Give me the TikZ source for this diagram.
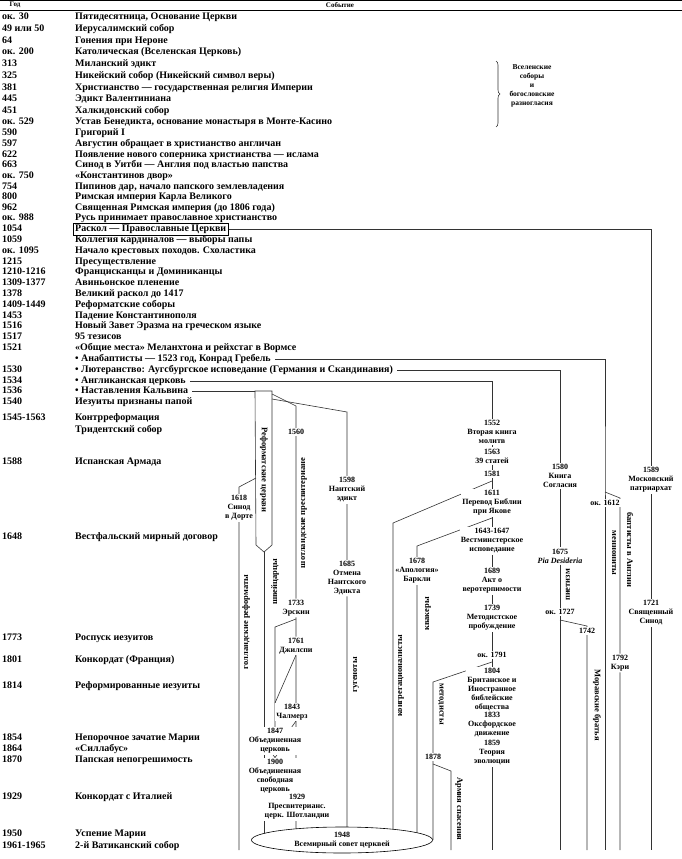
\documentclass[tikz,border=0pt]{standalone}
\usepackage{fontspec}
\setmainfont{Liberation Serif}
\usetikzlibrary{shapes.geometric,decorations.pathreplacing}
\pgfdeclarelayer{bg}
\pgfsetlayers{bg,main}

\tikzstyle{hd}=[inner sep=0pt, font=\bfseries\fontsize{7}{7}\selectfont]
\tikzstyle{yr}=[anchor=west, inner sep=0pt, text height=7pt, text depth=2pt, font=\bfseries\fontsize{10}{11}\selectfont]
\tikzstyle{ev}=[yr]
\tikzstyle{br}=[fill=white, inner sep=1.2pt, align=center, font=\bfseries\fontsize{8}{9}\selectfont]
\tikzstyle{vt}=[inner sep=0pt, font=\bfseries\fontsize{8.5}{9}\selectfont]
\tikzstyle{ln}=[line width=0.6pt, black!80]

\begin{document}
\begin{tikzpicture}[x=1pt, y=-1pt]
\useasboundingbox (0,0) rectangle (682,859);

% header
\node[hd] (HY) at (15,5) {Год};
\node[hd] (HE) at (340,5) {Событие};
\draw[line width=1pt] (0,1) -- (682,1);
\draw[line width=0.5pt] (0,10) -- (682,10);

% years and events
\node[yr] (Y0) at (2,17) {ок. 30};        \node[ev] (E0) at (75,17) {Пятидесятница, Основание Церкви};
\node[yr] (Y1) at (2,29) {49 или 50};     \node[ev] (E1) at (75,29) {Иерусалимский собор};
\node[yr] (Y2) at (2,41) {64};            \node[ev] (E2) at (75,41) {Гонения при Нероне};
\node[yr] (Y3) at (2,52) {ок. 200};       \node[ev] (E3) at (75,52) {Католическая (Вселенская Церковь)};
\node[yr] (Y4) at (2,64) {313};           \node[ev] (E4) at (75,64) {Миланский эдикт};
\node[yr] (Y5) at (2,76) {325};           \node[ev] (E5) at (75,76) {Никейский собор (Никейский символ веры)};
\node[yr] (Y6) at (2,88) {381};           \node[ev] (E6) at (75,88) {Христианство — государственная религия Империи};
\node[yr] (Y7) at (2,99) {445};           \node[ev] (E7) at (75,99) {Эдикт Валентиниана};
\node[yr] (Y8) at (2,111) {451};          \node[ev] (E8) at (75,111) {Халкидонский собор};
\node[yr] (Y9) at (2,122) {ок. 529};      \node[ev] (E9) at (75,122) {Устав Бенедикта, основание монастыря в Монте-Касино};
\node[yr] (Y10) at (2,133) {590};         \node[ev] (E10) at (75,133) {Григорий I};
\node[yr] (Y11) at (2,144) {597};         \node[ev] (E11) at (75,144) {Августин обращает в христианство англичан};
\node[yr] (Y12) at (2,155) {622};         \node[ev] (E12) at (75,155) {Появление нового соперника христианства — ислама};
\node[yr] (Y13) at (2,165) {663};         \node[ev] (E13) at (75,165) {Синод в Уитби — Англия под властью папства};
\node[yr] (Y14) at (2,176) {ок. 750};     \node[ev] (E14) at (75,176) {«Константинов двор»};
\node[yr] (Y15) at (2,187) {754};         \node[ev] (E15) at (75,187) {Пипинов дар, начало папского землевладения};
\node[yr] (Y16) at (2,197) {800};         \node[ev] (E16) at (75,197) {Римская империя Карла Великого};
\node[yr] (Y17) at (2,208) {962};         \node[ev] (E17) at (75,208) {Священная Римская империя (до 1806 года)};
\node[yr] (Y18) at (2,218) {ок. 988};     \node[ev] (E18) at (75,218) {Русь принимает православное христианство};
\node[yr] (Y19) at (2,229) {1054};        \node[ev, draw, inner xsep=2pt, inner ysep=1.5pt] (E19) at (73,229) {Раскол — Православные Церкви};
\node[yr] (Y20) at (2,240) {1059};        \node[ev] (E20) at (75,240) {Коллегия кардиналов — выборы папы};
\node[yr] (Y21) at (2,251) {ок. 1095};    \node[ev] (E21) at (75,251) {Начало крестовых походов. Схоластика};
\node[yr] (Y22) at (2,262) {1215};        \node[ev] (E22) at (75,262) {Пресуществление};
\node[yr] (Y23) at (2,272) {1210-1216};   \node[ev] (E23) at (75,272) {Францисканцы и Доминиканцы};
\node[yr] (Y24) at (2,283) {1309-1377};   \node[ev] (E24) at (75,283) {Авиньонское пленение};
\node[yr] (Y25) at (2,294) {1378};        \node[ev] (E25) at (75,294) {Великий раскол до 1417};
\node[yr] (Y26) at (2,305) {1409-1449};   \node[ev] (E26) at (75,305) {Реформатские соборы};
\node[yr] (Y27) at (2,316) {1453};        \node[ev] (E27) at (75,316) {Падение Константинополя};
\node[yr] (Y28) at (2,326) {1516};        \node[ev] (E28) at (75,326) {Новый Завет Эразма на греческом языке};
\node[yr] (Y29) at (2,337) {1517};        \node[ev] (E29) at (75,337) {95 тезисов};
\node[yr] (Y30) at (2,348) {1521};        \node[ev] (E30) at (75,348) {«Общие места» Меланхтона и рейхстаг в Вормсе};
                                          \node[ev] (E31) at (75,359) {• Анабаптисты — 1523 год, Конрад Гребель};
\node[yr] (Y32) at (2,370) {1530};        \node[ev] (E32) at (75,370) {• Лютеранство: Аугсбургское исповедание (Германия и Скандинавия)};
\node[yr] (Y33) at (2,381) {1534};        \node[ev] (E33) at (75,381) {• Англиканская церковь};
\node[yr] (Y34) at (2,391) {1536};        \node[ev] (E34) at (75,391) {• Наставления Кальвина};
\node[yr] (Y35) at (2,402) {1540};        \node[ev] (E35) at (75,402) {Иезуиты признаны папой};
\node[yr] (Y36) at (2,418) {1545-1563};   \node[ev] (E36) at (75,418) {Контрреформация};
                                          \node[ev] (E37) at (75,430) {Тридентский собор};
\node[yr] (Y38) at (2,462) {1588};        \node[ev] (E38) at (75,462) {Испанская Армада};
\node[yr] (Y39) at (2,537) {1648};        \node[ev] (E39) at (75,537) {Вестфальский мирный договор};
\node[yr] (Y40) at (2,638) {1773};        \node[ev] (E40) at (75,638) {Роспуск иезуитов};
\node[yr] (Y41) at (2,660) {1801};        \node[ev] (E41) at (75,660) {Конкордат (Франция)};
\node[yr] (Y42) at (2,686) {1814};        \node[ev] (E42) at (75,686) {Реформированные иезуиты};
\node[yr] (Y43) at (2,738) {1854};        \node[ev] (E43) at (75,738) {Непорочное зачатие Марии};
\node[yr] (Y44) at (2,749) {1864};        \node[ev] (E44) at (75,749) {«Силлабус»};
\node[yr] (Y45) at (2,760) {1870};        \node[ev] (E45) at (75,760) {Папская непогрешимость};
\node[yr] (Y46) at (2,797) {1929};        \node[ev] (E46) at (75,797) {Конкордат с Италией};
\node[yr] (Y47) at (2,834) {1950};        \node[ev] (E47) at (75,834) {Успение Марии};
\node[yr] (Y48) at (2,846) {1961-1965};   \node[ev] (E48) at (75,846) {2-й Ватиканский собор};

% councils brace
\draw[ln, decorate, decoration={brace, amplitude=4pt}] (496,61) -- (496,127);
\node[align=center, inner sep=0pt, font=\bfseries\fontsize{7.5}{9}\selectfont] (BR) at (532,86) {Вселенские\\соборы\\и\\богословские\\разногласия};

% orthodox
\node[br] (O1) at (651,480) {1589\\Московский\\патриархат};
\node[br] (O2) at (651,613) {1721\\Священный\\Синод};
% anabaptists
\node[br] (M1) at (605,503) {ок. 1612};
\node[br] (B1) at (620,663) {1792\\Кэри};
\node[vt, rotate=-90] (MV) at (614,553) {меннониты};
\node[vt, rotate=-90] (BV) at (630,550) {баптисты в Англии};
% lutherans
\node[br] (L1) at (560,476) {1580\\Книга\\Согласия};
\node[br] (L2) at (560,556) {1675\\\textit{Pia Desideria}};
\node[br] (L3) at (560,612) {ок. 1727};
\node[br] (L4) at (587,631) {1742};
\node[vt, rotate=90] (PV) at (568,585) {пиетизм};
\node[vt, rotate=-90] (MB) at (597,705) {Моравские братья};
% anglicans
\node[br] (A1) at (492,432) {1552\\Вторая книга\\молитв};
\node[br] (A2) at (492,456) {1563\\39 статей};
\node[br] (A3) at (492,474) {1581};
\node[br] (A4) at (492,503) {1611\\Перевод Библии\\при Якове};
\node[br] (A5) at (492,541) {1643-1647\\Вестминстерское\\исповедание};
\node[br] (A6) at (492,581) {1689\\Акт о\\веротерпимости};
\node[br] (A7) at (492,618) {1739\\Методистское\\пробуждение};
\node[br] (A8) at (492,655) {ок. 1791};
\node[br] (A9) at (492,690) {1804\\Британское и\\Иностранное\\библейские\\общества};
\node[br] (A10) at (492,725) {1833\\Оксфордское\\движение};
\node[br] (A11) at (492,753) {1859\\Теория\\эволюции};
\node[br] (Q1) at (417,571) {1678\\«Апология»\\Баркли};
\node[br] (MT1) at (433,757) {1878};
\node[vt, rotate=90] (CV) at (401,676) {конгрегационалисты};
\node[vt, rotate=90] (QV) at (428,614) {квакеры};
\node[vt, rotate=-90] (MTV) at (441,704) {методисты};
\node[vt, rotate=-90] (SA) at (459,809) {Армия спасения};
% reformed
\node[vt, rotate=-90] (RC) at (264,470) {Реформатские церкви};
\node[br] (H1) at (347,490) {1598\\Нантский\\эдикт};
\node[br] (H2) at (347,578) {1685\\Отмена\\Нантского\\Эдикта};
\node[br] (D1) at (239,508) {1618\\Синод\\в Дорте};
\node[br] (S1) at (296,432) {1560};
\node[br] (S2) at (296,608) {1733\\Эрскин};
\node[br] (S3) at (296,646) {1761\\Джилспи};
\node[br] (S4) at (292,712) {1843\\Чалмерз};
\node[br] (U1) at (275,741) {1847\\Объединенная\\церковь};
\node[br] (U2) at (275,776) {1900\\Объединенная\\свободная\\церковь};
\node[br] (S5) at (297,807) {1929\\Пресвитерианс.\\церк. Шотландии};
\node[vt, rotate=90] (SV) at (304,513) {шотландские пресвитериане};
\node[vt, rotate=90] (WV) at (275,582) {швейцарцы};
\node[vt, rotate=90] (DV) at (246,622) {голландские реформаты};
\node[vt, rotate=90] (HV) at (356,675) {гугеноты};
\node[ellipse, draw, line width=0.6pt, fill=white, minimum width=181pt, minimum height=26pt, inner sep=0pt, align=center, font=\bfseries\fontsize{8}{9}\selectfont] (W) at (342,840) {1948\\Всемирный совет церквей};

% corners and line ends
\coordinate (o0) at (651,229);  \coordinate (o9) at (651,850);
\coordinate (a0) at (605,359);  \coordinate (a1) at (605,492);  \coordinate (a2) at (620,498);
\coordinate (a8) at (605,850);  \coordinate (a9) at (620,850);
\coordinate (l0) at (560,370);  \coordinate (l1) at (560,620);  \coordinate (l2) at (587,626);
\coordinate (l8) at (560,850);  \coordinate (l9) at (587,850);
\coordinate (g0) at (492,381);  \coordinate (g9) at (492,850);
\coordinate (c1) at (492,481);  \coordinate (c2) at (393,523);  \coordinate (c9) at (393,840);
\coordinate (q1) at (492,518);  \coordinate (q2) at (417,546);  \coordinate (q9) at (417,840);
\coordinate (m1) at (492,662);  \coordinate (m2) at (433,682);  \coordinate (m9) at (433,840);
\coordinate (s1) at (433,764);  \coordinate (s2) at (451,771);  \coordinate (s9) at (451,850);
\coordinate (p1) at (255,391);  \coordinate (p2) at (272,391);  \coordinate (p3) at (272,545);
\coordinate (p4) at (264,552);  \coordinate (p5) at (256,545);  \coordinate (w9) at (264,840);
\coordinate (t1) at (272,394);  \coordinate (t2) at (296,406);  \coordinate (k9) at (296,840);
\coordinate (h1) at (272,399);  \coordinate (h2) at (347,412);  \coordinate (h9) at (347,840);
\coordinate (d1) at (256,478);  \coordinate (d2) at (239,487);  \coordinate (d9) at (239,850);
\coordinate (e1) at (296,619);  \coordinate (e2) at (275,627);
\coordinate (r1) at (296,655);  \coordinate (r2) at (275,703);
\coordinate (f1) at (296,721);  \coordinate (f2) at (284,738);
\coordinate (v1) at (271,752);  \coordinate (v2) at (279,752);
\coordinate (u2) at (282,794);  \coordinate (u3) at (296,794);

\begin{pgfonlayer}{bg}
\draw[ln] (E19.east) -- (o0) -- (O1) -- (O2) -- (o9);
\draw[ln] ([xshift=4pt]E31.east) -- (a0) -- (a1) -- (M1) -- (a8);
\draw[ln] (a1) -- (a2) -- (B1) -- (a9);
\draw[ln] ([xshift=4pt]E32.east) -- (l0) -- (L1) -- (L2) -- (L3) -- (l8);
\draw[ln] (l1) -- (l2) -- (L4) -- (l9);
\draw[ln] ([xshift=4pt]E33.east) -- (g0) -- (A1) -- (A2) -- (A3) -- (A4) -- (A5) -- (A6) -- (A7) -- (A8) -- (A9) -- (A10) -- (A11) -- (g9);
\draw[ln] (c1) -- (c2) -- (c9);
\draw[ln] (q1) -- (q2) -- (Q1) -- (q9);
\draw[ln] (m1) -- (m2) -- (MT1) -- (m9);
\draw[ln] (s1) -- (s2) -- (s9);
\draw[ln] ([xshift=4pt]E34.east) -- (p1);
\draw[ln] (p1) -- (p2) -- (p3) -- (p4) -- (p5) -- cycle;
\draw[ln] (p4) -- (w9);
\draw[ln] (t1) -- (t2) -- (S1) -- (S2) -- (S3) -- (k9);
\draw[ln] (h1) -- (h2) -- (H1) -- (H2) -- (h9);
\draw[ln] (d1) -- (d2) -- (D1) -- (d9);
\draw[ln] (e1) -- (e2) -- (U1);
\draw[ln] (r1) -- (r2);
\draw[ln] (f1) -- (f2);
\draw[ln] (v1) -- (U2.north) -- (v2);
\draw[ln] (u2) -- (u3);
\end{pgfonlayer}
\end{tikzpicture}
\end{document}
